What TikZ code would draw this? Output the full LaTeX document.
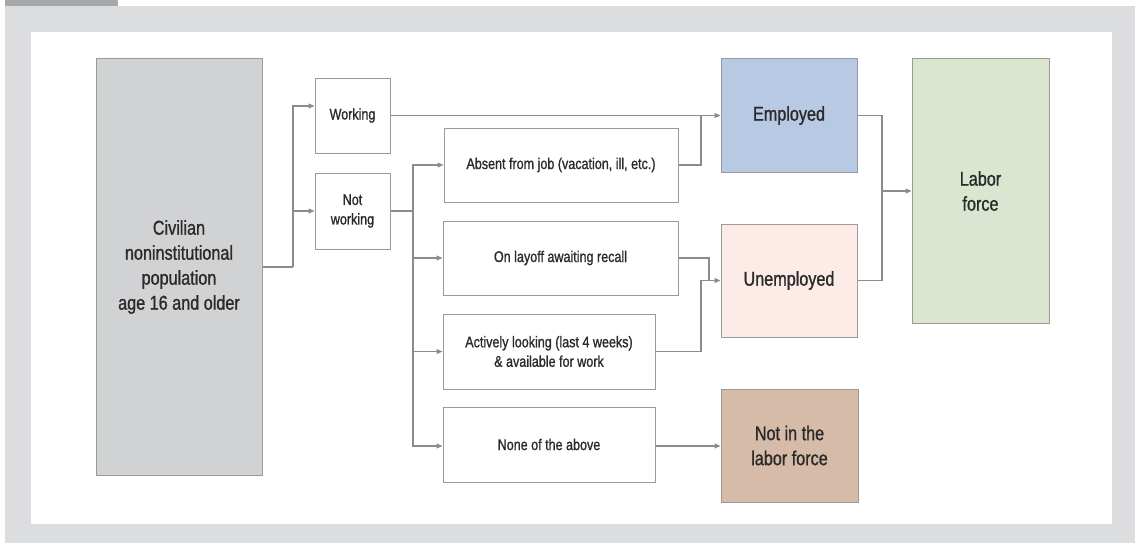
\documentclass[tikz,border=0pt]{standalone}
\usepackage{fontspec}
\setmainfont{Liberation Sans}[FakeStretch=0.81,FakeBold=1.0]
\usetikzlibrary{arrows.meta}
\definecolor{bggray}{HTML}{DCDDDF}
\definecolor{tabgray}{HTML}{A7A8AB}
\definecolor{civfill}{HTML}{D1D2D4}
\definecolor{empfill}{HTML}{B8C9E4}
\definecolor{unempfill}{HTML}{FDEBE8}
\definecolor{nlffill}{HTML}{D5BBA8}
\definecolor{lffill}{HTML}{DBE6D0}
\definecolor{linegray}{HTML}{8C8C8C}
\definecolor{boxgray}{HTML}{9A9A9A}
\definecolor{txt}{HTML}{2A2A2A}
\tikzset{
  box/.style={draw=boxgray, line width=1pt, inner sep=0pt, align=center, text=txt},
  smallbox/.style={box, fill=white, font=\fontsize{15.5}{19.5}\selectfont},
  bigbox/.style={box, font=\fontsize{20}{25}\selectfont},
  conn/.style={draw=linegray, line width=1.1pt},
  arr/.style={conn, -{Triangle[length=6pt,width=5pt]}},
}
\begin{document}
\begin{tikzpicture}[x=1pt,y=-1pt]
\useasboundingbox (0,0) rectangle (1140,543);
% background
\fill[bggray] (5,6) rectangle (1135,543);
\fill[tabgray] (5,0) rectangle (118,6);
\fill[white] (31,32) rectangle (1112,524);
% nodes
\node[bigbox, fill=civfill, minimum width=166pt, minimum height=416pt] (civ) at (179,267) {Civilian\\noninstitutional\\population\\age 16 and older};
\node[smallbox, minimum width=75pt, minimum height=75pt] (work) at (352.5,115.5) {Working};
\node[smallbox, minimum width=75pt, minimum height=76pt] (nw) at (352.5,211) {Not\\working};
\node[smallbox, minimum width=234pt, minimum height=74pt] (absent) at (561,165) {Absent from job (vacation, ill, etc.)};
\node[smallbox, minimum width=235pt, minimum height=74pt] (layoff) at (560.5,258) {On layoff awaiting recall};
\node[smallbox, minimum width=212pt, minimum height=75pt] (active) at (549,351.5) {Actively looking (last 4 weeks)\\\& available for work};
\node[smallbox, minimum width=212pt, minimum height=75pt] (none) at (549,444.5) {None of the above};
\node[bigbox, fill=empfill, minimum width=136pt, minimum height=113pt] (emp) at (789,115.5) {Employed};
\node[bigbox, fill=unempfill, minimum width=136pt, minimum height=113pt] (unemp) at (789,280.5) {Unemployed};
\node[bigbox, fill=nlffill, minimum width=137pt, minimum height=113pt] (nlf) at (789.5,445.5) {Not in the\\labor force};
\node[bigbox, fill=lffill, minimum width=137pt, minimum height=264pt] (lf) at (980.5,191) {Labor\\force};
% junction coordinates
\coordinate (j1) at (293,267);
\coordinate (j2) at (413,211);
\coordinate (j3) at (701,115.5);
\coordinate (j4) at (701,280.5);
\coordinate (j5) at (709,280.5);
\coordinate (j6) at (882,191);
\coordinate (n1) at ([yshift=-1.5pt]none.east);
% connectors
\draw[conn] (civ.east) -- (j1);
\draw[arr] (j1) |- ([yshift=9.5pt]work.west);
\draw[arr] (j1) |- (nw.west);
\draw[conn] (nw.east) -- (j2);
\draw[arr] (j2) |- (absent.west);
\draw[arr] (j2) |- (layoff.west);
\draw[arr] (j2) |- (active.west);
\draw[arr] (j2) |- ([yshift=-1.5pt]none.west);
\draw[arr] (work.east) -- (emp.west);
\draw[conn] (absent.east) -| (j3);
\draw[conn] (layoff.east) -| (j5);
\draw[arr] (active.east) -| (j4) -- (unemp.west);
\draw[arr] (n1) -- (n1 -| nlf.west);
\draw[conn] (emp.east) -| (j6);
\draw[conn] (unemp.east) -| (j6);
\draw[arr] (j6) -- (lf.west);
\end{tikzpicture}
\end{document}
